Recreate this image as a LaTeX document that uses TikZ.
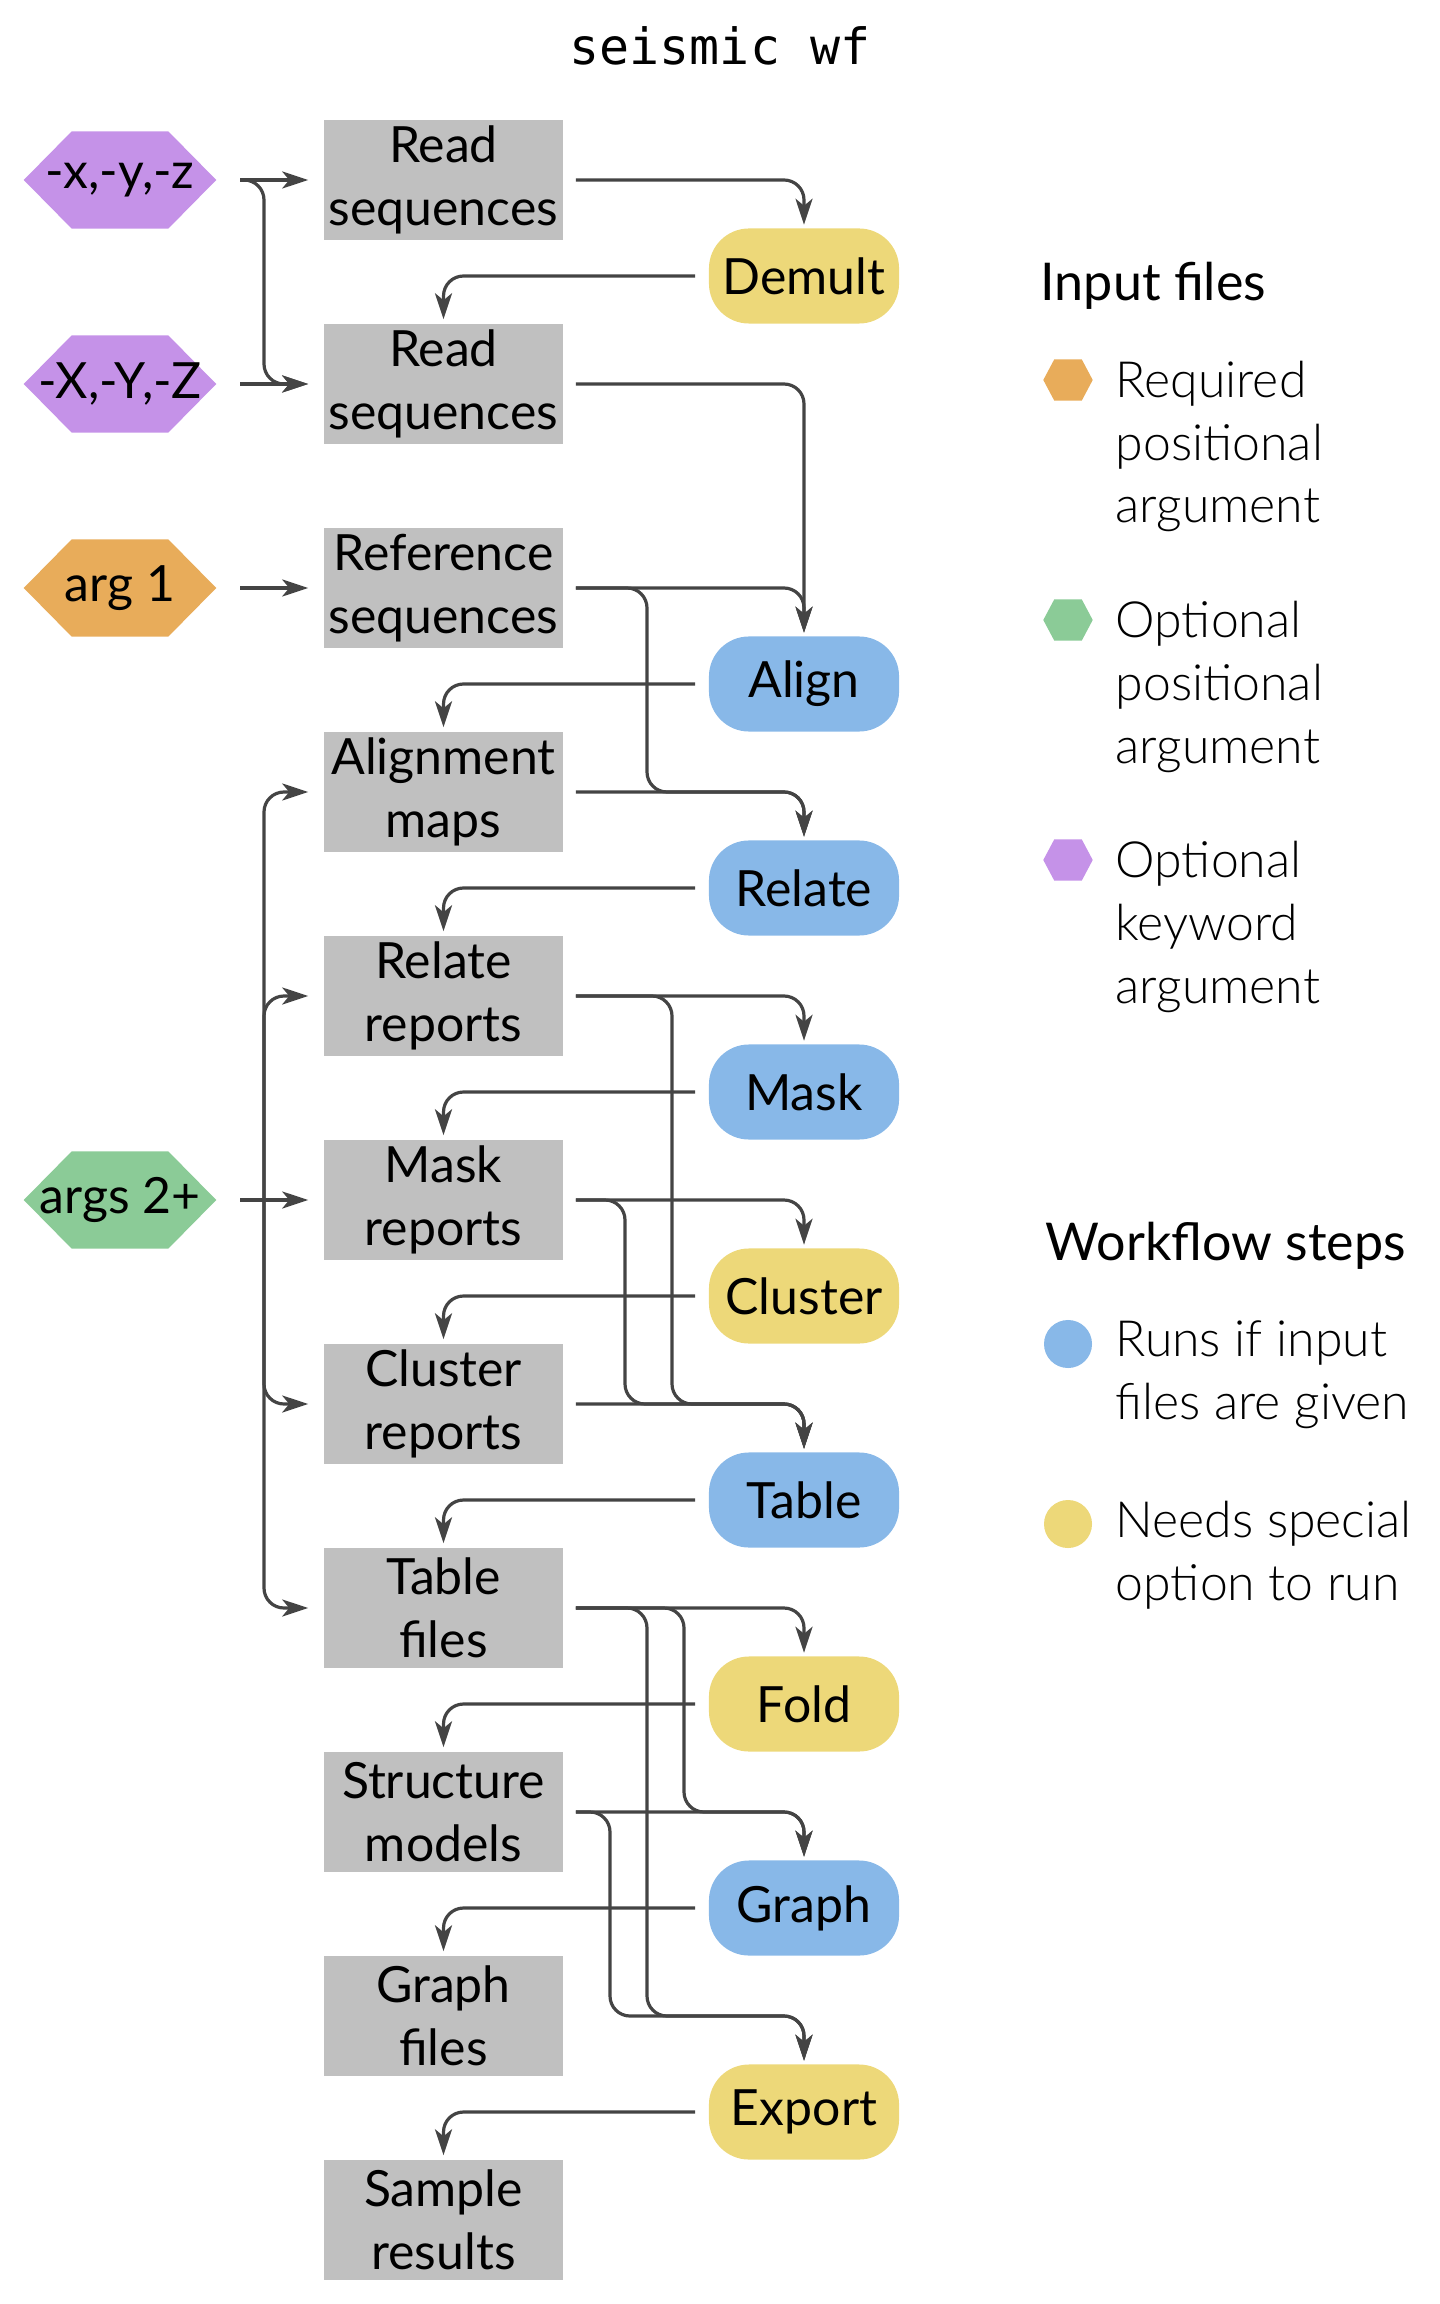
\documentclass[tikz,border=0pt]{standalone}
\usepackage{fontspec}
\setmainfont{Lato}
\newfontfamily\lightfont{Lato Light}
\newfontfamily\titlefont{DejaVu Sans Mono}
\usetikzlibrary{arrows.meta,backgrounds}

\definecolor{boxgray}{HTML}{C0C0C0}
\definecolor{kwpurple}{HTML}{C592E8}
\definecolor{reqorange}{HTML}{E8AC5A}
\definecolor{optgreen}{HTML}{8BCB97}
\definecolor{runblue}{HTML}{88B8E8}
\definecolor{optyellow}{HTML}{EDD879}
\definecolor{linegray}{HTML}{444444}

% fill a flat-topped hexagon behind a rectangular node
\newcommand\hexback[3]{%
  \fill[#2] (#1.west) -- ([xshift=#3]#1.north west) -- ([xshift=-#3]#1.north east)
    -- (#1.east) -- ([xshift=-#3]#1.south east) -- ([xshift=#3]#1.south west) -- cycle;}

\newcommand\labelfont{\fontsize{14.2}{17.9}\selectfont}

\begin{document}
\begin{tikzpicture}[x=0.01cm,y=-0.01cm,
  filebox/.style={fill=boxgray, minimum width=2.39cm, minimum height=1.2cm,
    inner sep=0pt, align=center, font=\labelfont},
  stepnode/.style={rounded corners=0.4cm, minimum width=1.9cm, minimum height=0.95cm,
    inner sep=0pt, font=\labelfont},
  argnode/.style={minimum width=1.91cm, minimum height=0.96cm, inner sep=0pt, font=\labelfont},
  legtext/.style={anchor=base west, align=left, inner sep=0pt, font=\lightfont\labelfont},
  leghead/.style={anchor=base west, inner sep=0pt, font=\fontsize{14.8}{17.9}\selectfont},
  conn/.style={draw=linegray, line width=0.032cm, rounded corners=0.2cm,
    -{Stealth[length=0.26cm,width=0.17cm,inset=0.07cm]}},
]
\useasboundingbox (0,0) rectangle (1440,2304);

% title
\node[anchor=base, inner sep=0pt, font=\titlefont\fontsize{14.2}{17}\selectfont] (title) at (720,65) {seismic wf};

% input arguments
\node[argnode] (xs) at (120,180) {-x,-y,-z};
\node[argnode] (XS) at (120,384) {-X,-Y,-Z};
\node[argnode] (a1) at (120,588) {arg 1};
\node[argnode] (a2) at (120,1200) {args 2+};

% files
\node[filebox] (rs1) at (443.5,180)  {Read\\sequences};
\node[filebox] (rs2) at (443.5,384)  {Read\\sequences};
\node[filebox] (ref) at (443.5,588)  {Reference\\sequences};
\node[filebox] (am)  at (443.5,792)  {Alignment\\maps};
\node[filebox] (rr)  at (443.5,996)  {Relate\\reports};
\node[filebox] (mr)  at (443.5,1200) {Mask\\reports};
\node[filebox] (cr)  at (443.5,1404) {Cluster\\reports};
\node[filebox] (tf)  at (443.5,1608) {Table\\files};
\node[filebox] (sm)  at (443.5,1812) {Structure\\models};
\node[filebox] (gf)  at (443.5,2016) {Graph\\files};
\node[filebox] (sr)  at (443.5,2220) {Sample\\results};

% workflow steps
\node[stepnode, fill=optyellow] (dem)  at (804,276)  {Demult};
\node[stepnode, fill=runblue]   (aln)  at (804,684)  {Align};
\node[stepnode, fill=runblue]   (rel)  at (804,888)  {Relate};
\node[stepnode, fill=runblue]   (msk)  at (804,1092) {Mask};
\node[stepnode, fill=optyellow] (clu)  at (804,1296) {Cluster};
\node[stepnode, fill=runblue]   (tab)  at (804,1500) {Table};
\node[stepnode, fill=optyellow] (fold) at (804,1704) {Fold};
\node[stepnode, fill=runblue]   (gra)  at (804,1908) {Graph};
\node[stepnode, fill=optyellow] (exp)  at (804,2112) {Export};

% legend (multi-line labels are placed by the baseline of their last line)
\node[leghead] (hin) at (1040,301) {Input files};
\node[minimum width=0.48cm, minimum height=0.4cm, inner sep=0pt] (lreq) at (1068,380) {};
\node[minimum width=0.48cm, minimum height=0.4cm, inner sep=0pt] (lopt) at (1068,620) {};
\node[minimum width=0.48cm, minimum height=0.4cm, inner sep=0pt] (lkw)  at (1068,860) {};
\node[legtext] (treq) at (1115,523) {Required\\positional\\argument};
\node[legtext] (topt) at (1115,763) {Optional\\positional\\argument};
\node[legtext] (tkw)  at (1115,1003) {Optional\\keyword\\argument};

\node[leghead] (hwf) at (1045,1260) {Workflow steps};
\node[circle, fill=runblue, minimum size=0.48cm, inner sep=0pt] (lrun) at (1068,1344) {};
\node[circle, fill=optyellow, minimum size=0.48cm, inner sep=0pt] (lspc) at (1068,1524) {};
\node[legtext] (trun) at (1115,1419) {Runs if input\\files are given};
\node[legtext] (tspc) at (1115,1600) {Needs special\\option to run};

% hexagon shapes behind the argument labels
\begin{pgfonlayer}{background}
  \hexback{xs}{kwpurple}{0.48cm}
  \hexback{XS}{kwpurple}{0.48cm}
  \hexback{a1}{reqorange}{0.48cm}
  \hexback{a2}{optgreen}{0.48cm}
  \hexback{lreq}{reqorange}{0.11cm}
  \hexback{lopt}{optgreen}{0.11cm}
  \hexback{lkw}{kwpurple}{0.11cm}
\end{pgfonlayer}

% arguments into files
\coordinate (a2j) at (264,1200);
\draw[conn] ([xshift=0.24cm]xs.east) -- ([xshift=-0.15cm]rs1.west);
\draw[conn] ([xshift=0.24cm]xs.east) -- (264,180) -- (264,384) -- ([xshift=-0.15cm]rs2.west);
\draw[conn] ([xshift=0.24cm]XS.east) -- ([xshift=-0.15cm]rs2.west);
\draw[conn] ([xshift=0.24cm]a1.east) -- ([xshift=-0.15cm]ref.west);
\draw[conn] ([xshift=0.24cm]a2.east) -- ([xshift=-0.15cm]mr.west);
\draw[conn] (a2j) -- (264,792) -- ([xshift=-0.15cm]am.west);
\draw[conn] (a2j) -- (264,996) -- ([xshift=-0.15cm]rr.west);
\draw[conn] (a2j) -- (264,1404) -- ([xshift=-0.15cm]cr.west);
\draw[conn] (a2j) -- (264,1608) -- ([xshift=-0.15cm]tf.west);

% files into steps
\draw[conn] ([xshift=0.12cm]rs1.east) -| ([yshift=0.03cm]dem.north);
\draw[conn] ([xshift=0.12cm]rs2.east) -| ([yshift=0.03cm]aln.north);
\draw[conn] ([xshift=0.12cm]ref.east) -| ([yshift=0.03cm]aln.north);
\draw[conn] ([xshift=0.12cm]ref.east) -- (647,588) -- (647,792) -| ([yshift=0.03cm]rel.north);
\draw[conn] ([xshift=0.12cm]am.east) -| ([yshift=0.03cm]rel.north);
\draw[conn] ([xshift=0.12cm]rr.east) -| ([yshift=0.03cm]msk.north);
\draw[conn] ([xshift=0.12cm]rr.east) -- (672,996) -- (672,1404) -| ([yshift=0.03cm]tab.north);
\draw[conn] ([xshift=0.12cm]mr.east) -| ([yshift=0.03cm]clu.north);
\draw[conn] ([xshift=0.12cm]mr.east) -- (625,1200) -- (625,1404) -| ([yshift=0.03cm]tab.north);
\draw[conn] ([xshift=0.12cm]cr.east) -| ([yshift=0.03cm]tab.north);
\draw[conn] ([xshift=0.12cm]tf.east) -| ([yshift=0.03cm]fold.north);
\draw[conn] ([xshift=0.12cm]tf.east) -- (684,1608) -- (684,1812) -| ([yshift=0.03cm]gra.north);
\draw[conn] ([xshift=0.12cm]tf.east) -- (647,1608) -- (647,2016) -| ([yshift=0.03cm]exp.north);
\draw[conn] ([xshift=0.12cm]sm.east) -| ([yshift=0.03cm]gra.north);
\draw[conn] ([xshift=0.12cm]sm.east) -- (610,1812) -- (610,2016) -| ([yshift=0.03cm]exp.north);

% steps into files
\draw[conn] ([xshift=-0.13cm]dem.west) -| ([yshift=0.04cm]rs2.north);
\draw[conn] ([xshift=-0.13cm]aln.west) -| ([yshift=0.04cm]am.north);
\draw[conn] ([xshift=-0.13cm]rel.west) -| ([yshift=0.04cm]rr.north);
\draw[conn] ([xshift=-0.13cm]msk.west) -| ([yshift=0.04cm]mr.north);
\draw[conn] ([xshift=-0.13cm]clu.west) -| ([yshift=0.04cm]cr.north);
\draw[conn] ([xshift=-0.13cm]tab.west) -| ([yshift=0.04cm]tf.north);
\draw[conn] ([xshift=-0.13cm]fold.west) -| ([yshift=0.04cm]sm.north);
\draw[conn] ([xshift=-0.13cm]gra.west) -| ([yshift=0.04cm]gf.north);
\draw[conn] ([xshift=-0.13cm]exp.west) -| ([yshift=0.04cm]sr.north);
\end{tikzpicture}
\end{document}
